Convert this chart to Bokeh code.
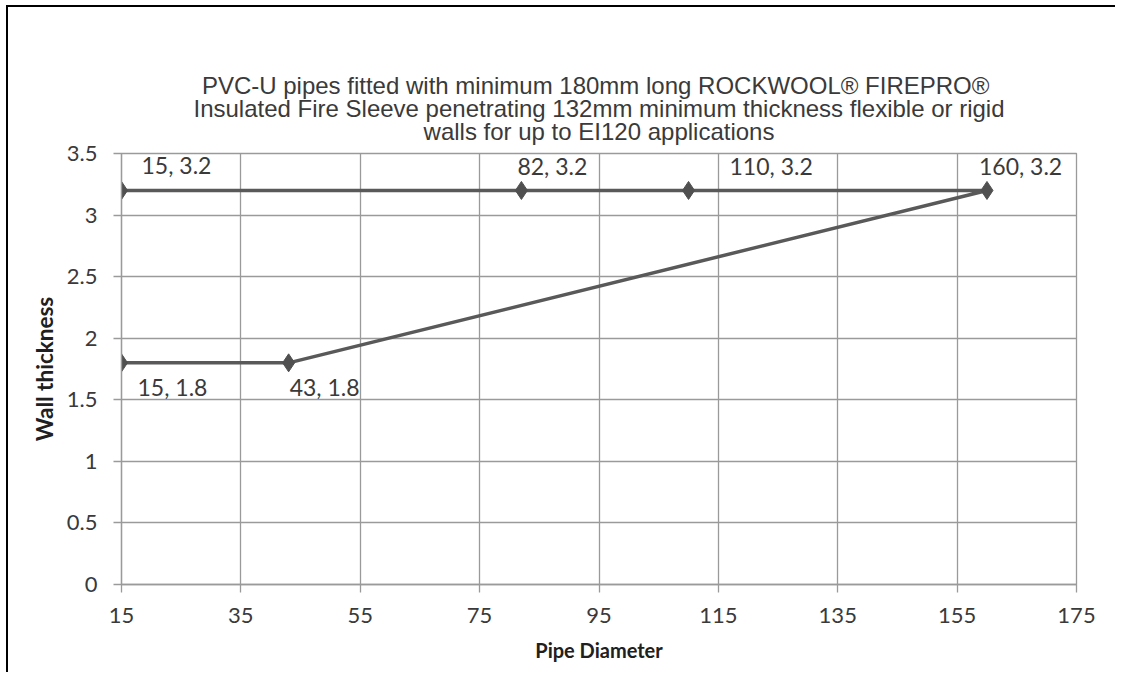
from bokeh.plotting import figure
from bokeh.layouts import column
from bokeh.models import ColumnDataSource, LabelSet, FixedTicker, Range1d, Title
from bokeh.core.properties import value
from bokeh.embed import file_html
from bokeh.resources import INLINE

# ---- data ----
pipe_diameter = [15, 43, 160, 110, 82, 15]
wall_thickness = [1.8, 1.8, 3.2, 3.2, 3.2, 3.2]
x_ticks = [15, 35, 55, 75, 95, 115, 135, 155, 175]
y_ticks = [0, 0.5, 1, 1.5, 2, 2.5, 3, 3.5]
y_tick_labels = ["0", "0.5", "1", "1.5", "2", "2.5", "3", "3.5"]
title_lines = [
    "PVC-U pipes fitted with  minimum 180mm long ROCKWOOL\u00ae FIREPRO\u00ae",
    "Insulated Fire Sleeve penetrating 132mm minimum thickness flexible or rigid",
    "walls for up to EI120 applications",
]
x_label = "Pipe Diameter"
y_label = "Wall thickness"

# label placement (style, in pixels)
label_dx = [16, 1, -8, 41, -4, 20]
label_dy = [-24, -24, 24, 24, 24, 25]

labels = [f"{x}, {y}" for x, y in zip(pipe_diameter, wall_thickness)]
src = ColumnDataSource(dict(x=pipe_diameter, y=wall_thickness, text=labels,
                            dx=label_dx, dy=label_dy))

GRID = "#9a9a9a"
TXT = "#3a3a3a"
FONT = "Lato"

p = figure(width=1115, height=672, output_backend="svg", toolbar_location=None,
           x_range=Range1d(x_ticks[0], x_ticks[-1]), y_range=Range1d(y_ticks[0], y_ticks[-1]),
           min_border_left=121, min_border_right=39, min_border_top=153, min_border_bottom=88)

p.border_fill_alpha = 0
p.outline_line_color = GRID
p.outline_line_width = 1.3
p.background_fill_color = "white"

p.xaxis.ticker = FixedTicker(ticks=x_ticks)
p.yaxis.ticker = FixedTicker(ticks=y_ticks)
p.yaxis.major_label_overrides = {t: l for t, l in zip(y_ticks, y_tick_labels)}

for ax in (p.xaxis, p.yaxis):
    ax.axis_line_color = GRID
    ax.axis_line_width = 1.3
    ax.major_tick_line_color = GRID
    ax.major_tick_line_width = 1.3
    ax.major_tick_out = 8
    ax.major_tick_in = 0
    ax.minor_tick_line_color = None
    ax.major_label_text_font = FONT
    ax.major_label_text_font_size = "22px"
    ax.major_label_text_color = TXT
    ax.axis_label_text_font = FONT
    ax.axis_label_text_font_style = "bold"
    ax.axis_label_text_color = "#202020"

p.xaxis.axis_label = x_label
p.yaxis.axis_label = y_label
p.xaxis.axis_label_text_font_size = "20px"
p.yaxis.axis_label_text_font_size = "22.5px"
p.xaxis.major_label_standoff = 15
p.yaxis.major_label_standoff = 16
p.xaxis.axis_label_standoff = 12
p.yaxis.axis_label_standoff = 6

p.xgrid.grid_line_color = GRID
p.ygrid.grid_line_color = GRID
p.xgrid.grid_line_width = 1.3
p.ygrid.grid_line_width = 1.3

p.line("x", "y", source=src, line_color="#595959", line_width=3.5)
p.scatter("x", "y", source=src, marker="diamond", size=18,
          fill_color="#505050", line_color="#505050")

p.add_layout(LabelSet(x="x", y="y", text="text", source=src,
                      x_offset="dx", y_offset="dy",
                      text_align="left", text_baseline="middle",
                      text_font=value(FONT), text_font_size="23px", text_color=TXT))

# title: three centred lines, nearest to the frame first
title_standoffs = [18, -31, 15.5]
for line, so in zip(reversed(title_lines), title_standoffs):
    p.add_layout(Title(text=line, align="center", text_font="Liberation Sans",
                       text_font_style="normal", text_font_size="24px",
                       text_color=TXT, text_line_height=1.0, standoff=so), "above")

# chart-area frame line (left and top edges) as background of the wrapping layout
root = column(p, spacing=0, styles={
    "background-color": "#fff",
    "background-image": "linear-gradient(#000, #000), linear-gradient(#000, #000)",
    "background-position": "6px 5px, 6px 5px",
    "background-size": "2px 100%, 1200px 2px",
    "background-repeat": "no-repeat, no-repeat",
})

open("out.html", "w").write(file_html(root, INLINE))
